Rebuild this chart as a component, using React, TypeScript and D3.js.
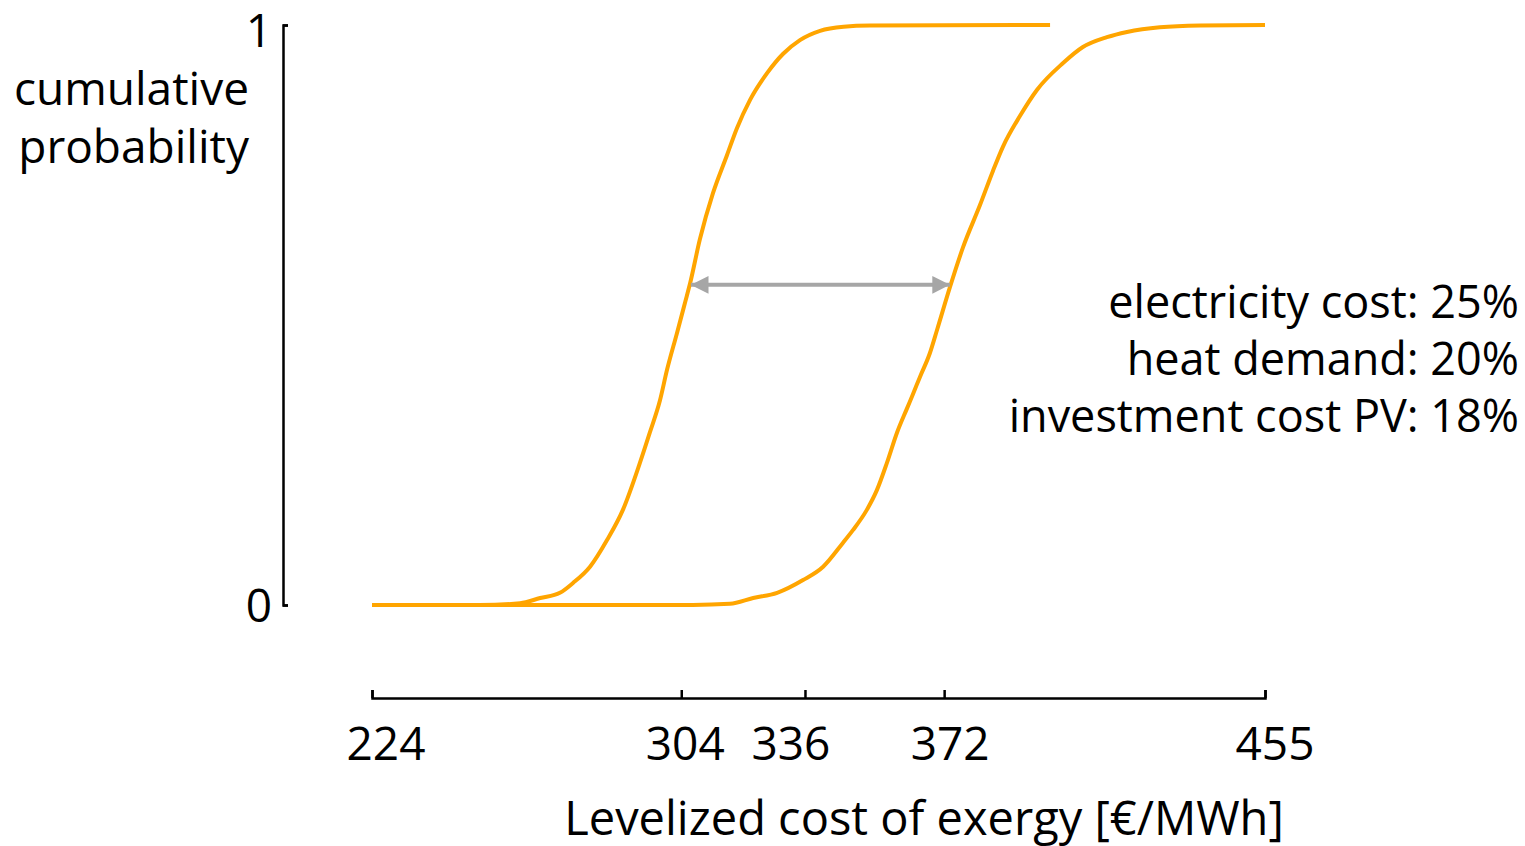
import React, { useEffect, useRef } from "react";
import * as d3 from "d3";

// ---- data ----
const xTicks = [224, 304, 336, 372, 455];
const yTicks = [0, 1];

// scenario A (lower cost curve): value [€/MWh], cumulative probability
const curveAValues = [224, 251.9, 262.3, 267.5, 272.6, 276.0, 280.4, 284.8, 288.9, 293.3, 295.9, 298.5, 300.3, 302.9, 305.0, 306.3, 308.8, 312.2, 315.8, 318.4, 321.8, 326.2, 330.3, 334.7, 339.9, 346.0, 352.8, 399.4];
const curveAProbs = [0, 0, 0.003, 0.012, 0.021, 0.038, 0.066, 0.112, 0.164, 0.245, 0.298, 0.353, 0.405, 0.469, 0.522, 0.555, 0.63, 0.71, 0.775, 0.822, 0.871, 0.917, 0.95, 0.974, 0.99, 0.997, 0.999, 1];

// scenario B (higher cost curve)
const curveBValues = [224, 307.0, 316.6, 322.6, 328.8, 335.5, 340.7, 345.8, 348.4, 352.0, 354.6, 357.2, 359.8, 362.4, 363.9, 365.8, 368.3, 370.2, 373.5, 376.9, 381.3, 384.6, 387.2, 391.6, 396.0, 402.7, 407.9, 414.1, 419.3, 427.8, 438.2, 455];
const curveBProbs = [0, 0, 0.002, 0.012, 0.021, 0.043, 0.066, 0.107, 0.129, 0.164, 0.198, 0.245, 0.297, 0.339, 0.363, 0.394, 0.434, 0.475, 0.548, 0.617, 0.69, 0.748, 0.79, 0.843, 0.888, 0.934, 0.962, 0.979, 0.988, 0.996, 0.999, 1];

// arrow between the curves
const arrowFrom = 306.5;
const arrowTo = 373.5;
const arrowProb = 0.552;

const sensitivityLines = ["electricity cost: 25%", "heat demand: 20%", "investment cost PV: 18%"];
const yTitleLines = ["cumulative", "probability"];
const xTitle = "Levelized cost of exergy [€/MWh]";

// ---- layout (not data) ----
const W = 1525;
const H = 846;
const tickLabelNudge = [14, 4, -14, 6, 10];
const yLabelNudge = [17, 22];
const FONT = "'Open Sans', sans-serif";
const ORANGE = "#FFA500";
const GREY = "#A6A6A6";

export default function App() {
  const ref = useRef<SVGSVGElement | null>(null);

  useEffect(() => {
    const svg = d3.select(ref.current);
    svg.selectAll("*").remove();

    const x = d3.scaleLinear().domain([224, 455]).range([372, 1265]);
    const y = d3.scaleLinear().domain([0, 1]).range([605, 25]);

    const defs = svg.append("defs");
    defs
      .append("marker")
      .attr("id", "ah")
      .attr("viewBox", "0 0 10 10")
      .attr("refX", 10)
      .attr("refY", 5)
      .attr("markerWidth", 4.6)
      .attr("markerHeight", 4.4)
      .attr("markerUnits", "strokeWidth")
      .attr("orient", "auto-start-reverse")
      .append("path")
      .attr("d", "M0,0 L10,5 L0,10 z")
      .attr("fill", GREY);

    // y axis
    const yAxis = d3.axisLeft(y).tickValues(yTicks).tickSizeInner(-5).tickSizeOuter(-5).tickFormat(() => "");
    const gy = svg.append("g").attr("transform", "translate(283,0)").call(yAxis);
    gy.selectAll("path, line").attr("stroke", "#000").attr("stroke-width", 2.5);

    svg
      .append("g")
      .selectAll("text")
      .data(yTicks)
      .join("text")
      .attr("x", 272)
      .attr("y", (d, i) => y(d) + yLabelNudge[i])
      .attr("text-anchor", "end")
      .attr("font-family", FONT)
      .attr("font-size", 46)
      .attr("fill", "#000")
      .text((d) => String(d));

    // x axis
    const xAxis = d3.axisBottom(x).tickValues(xTicks).tickSizeInner(-8).tickSizeOuter(-8).tickFormat(() => "");
    const gx = svg.append("g").attr("transform", "translate(0,698)").call(xAxis);
    gx.selectAll("path, line").attr("stroke", "#000").attr("stroke-width", 2.5);

    svg
      .append("g")
      .selectAll("text")
      .data(xTicks)
      .join("text")
      .attr("x", (d, i) => x(d) + tickLabelNudge[i])
      .attr("y", 760)
      .attr("text-anchor", "middle")
      .attr("font-family", FONT)
      .attr("font-size", 46)
      .attr("fill", "#000")
      .text((d) => String(d));

    // curves
    const line = d3
      .line<[number, number]>()
      .x((d) => x(d[0]))
      .y((d) => y(d[1]))
      .curve(d3.curveMonotoneX);

    const a = curveAValues.map((v, i) => [v, curveAProbs[i]] as [number, number]);
    const b = curveBValues.map((v, i) => [v, curveBProbs[i]] as [number, number]);
    [b, a].forEach((pts) => {
      svg
        .append("path")
        .attr("d", line(pts))
        .attr("fill", "none")
        .attr("stroke", ORANGE)
        .attr("stroke-width", 4)
        .attr("stroke-linejoin", "round");
    });

    // arrow
    svg
      .append("line")
      .attr("x1", x(arrowFrom))
      .attr("x2", x(arrowTo))
      .attr("y1", y(arrowProb))
      .attr("y2", y(arrowProb))
      .attr("stroke", GREY)
      .attr("stroke-width", 4)
      .attr("marker-start", "url(#ah)")
      .attr("marker-end", "url(#ah)");

    // y title
    svg
      .append("g")
      .selectAll("text")
      .data(yTitleLines)
      .join("text")
      .attr("x", 249)
      .attr("y", (d, i) => 105 + i * 58)
      .attr("text-anchor", "end")
      .attr("font-family", FONT)
      .attr("font-size", 46)
      .attr("fill", "#000")
      .text((d) => d);

    // x title
    svg
      .append("text")
      .attr("x", 924)
      .attr("y", 835)
      .attr("text-anchor", "middle")
      .attr("font-family", FONT)
      .attr("font-size", 47)
      .attr("fill", "#000")
      .text(xTitle);

    // sensitivity text
    svg
      .append("g")
      .selectAll("text")
      .data(sensitivityLines)
      .join("text")
      .attr("x", 1519)
      .attr("y", (d, i) => 318 + i * 57)
      .attr("text-anchor", "end")
      .attr("font-family", FONT)
      .attr("font-size", 45)
      .attr("fill", "#000")
      .text((d) => d);
  }, []);

  return (
    <svg
      ref={ref}
      width={W}
      height={H}
      style={{ position: "absolute", left: 0, top: 0, background: "#fff" }}
    />
  );
}
